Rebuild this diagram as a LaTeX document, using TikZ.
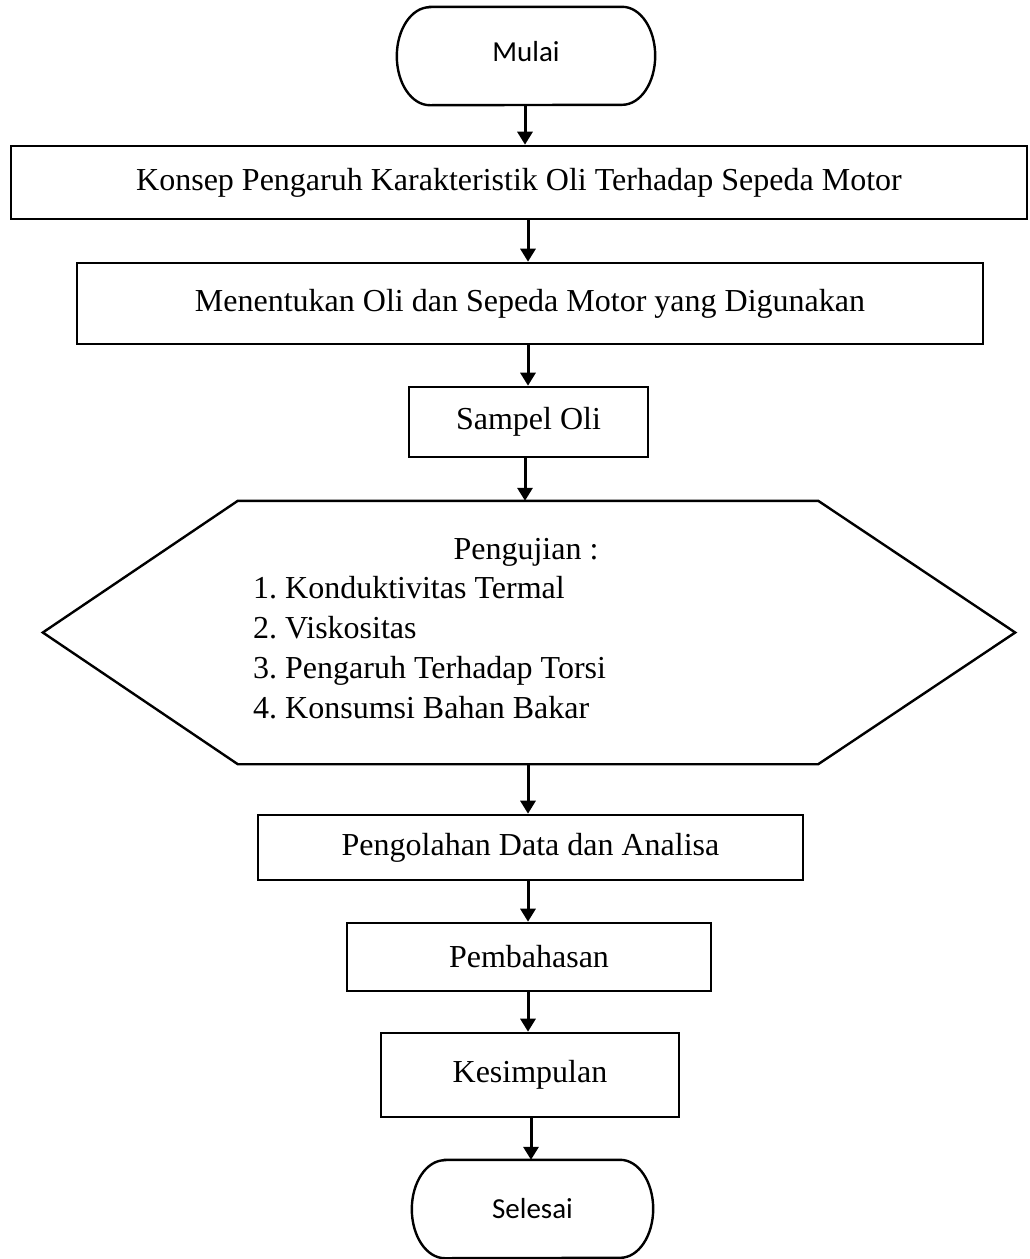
\documentclass[tikz,border=0pt]{standalone}
\usepackage{fontspec}
\setmainfont{Liberation Serif}
\newfontfamily\termfont{Carlito}
\usetikzlibrary{arrows.meta}
\frenchspacing
\begin{document}
\begin{tikzpicture}[x=1pt,y=-1pt,
  procbox/.style={draw, line width=2.6pt, rectangle, inner sep=0pt,
    font=\fontsize{32}{40}\selectfont},
  termbox/.style={inner sep=0pt, font=\termfont\fontsize{29}{35}\selectfont},
  termline/.style={line width=2.4pt},
  flow/.style={line width=3pt, -{Triangle[width=15pt,length=13pt]}},
  listtext/.style={inner sep=0pt, font=\fontsize{32}{40}\selectfont}]
\useasboundingbox (0,0) rectangle (1029,1259);

% terminators
\node[termbox, minimum width=258pt, minimum height=98pt, text depth=10pt] (start) at (526,56) {Mulai};
\node[termbox, minimum width=241pt, minimum height=98pt] (finish) at (532.5,1209) {Selesai};
\foreach \t in {start,finish}{
  \draw[termline] ([xshift=33pt]\t.north west) -- ([xshift=-33pt]\t.north east)
    arc[start angle=90, end angle=-90, x radius=33pt, y radius=49pt]
    -- ([xshift=33pt]\t.south west)
    arc[start angle=270, end angle=90, x radius=33pt, y radius=49pt] -- cycle;
}

% process steps
\node[procbox, minimum width=1016pt, minimum height=73pt] (konsep) at (519,182.5)
  {Konsep Pengaruh Karakteristik Oli Terhadap Sepeda Motor};
\node[procbox, minimum width=906pt, minimum height=81pt] (tentu) at (530,303.5)
  {Menentukan Oli dan Sepeda Motor yang Digunakan};
\node[procbox, minimum width=239pt, minimum height=70pt] (sampel) at (528.5,422)
  {Sampel Oli};

% testing stage (hexagon)
\node[inner sep=0pt, minimum width=972pt, minimum height=263pt] (uji) at (529,632.5) {};
\draw[termline] (uji.west) -- ([xshift=195pt]uji.north west) -- ([xshift=-197pt]uji.north east)
  -- (uji.east) -- ([xshift=-197pt]uji.south east) -- ([xshift=195pt]uji.south west) -- cycle;
\node[listtext, anchor=base] (ujihead) at (526,559) {Pengujian :};
\node[listtext, anchor=base west, align=left] (ujilist) at (253,718)
  {1. Konduktivitas Termal\\2. Viskositas\\3. Pengaruh Terhadap Torsi\\4. Konsumsi Bahan Bakar};

\node[procbox, minimum width=545pt, minimum height=65pt] (olah) at (530.5,847.5)
  {Pengolahan Data dan Analisa};
\node[procbox, minimum width=364pt, minimum height=68pt] (bahas) at (529,957)
  {Pembahasan};
\node[procbox, minimum width=298pt, minimum height=84pt] (simpul) at (530,1075)
  {Kesimpulan};

% connectors
\coordinate (axis) at (528,0);
\draw[flow] (start.south -| 525,0) -- (konsep.north -| 525,0);
\draw[flow] (konsep.south -| axis) -- (tentu.north -| axis);
\draw[flow] (tentu.south -| axis) -- (sampel.north -| axis);
\draw[flow] (sampel.south -| 525,0) -- (uji.north -| 525,0);
\draw[flow] (uji.south -| axis) -- (olah.north -| axis);
\draw[flow] (olah.south -| axis) -- (bahas.north -| axis);
\draw[flow] (bahas.south -| axis) -- (simpul.north -| axis);
\draw[flow] (simpul.south -| 531,0) -- (finish.north -| 531,0);
\end{tikzpicture}
\end{document}
